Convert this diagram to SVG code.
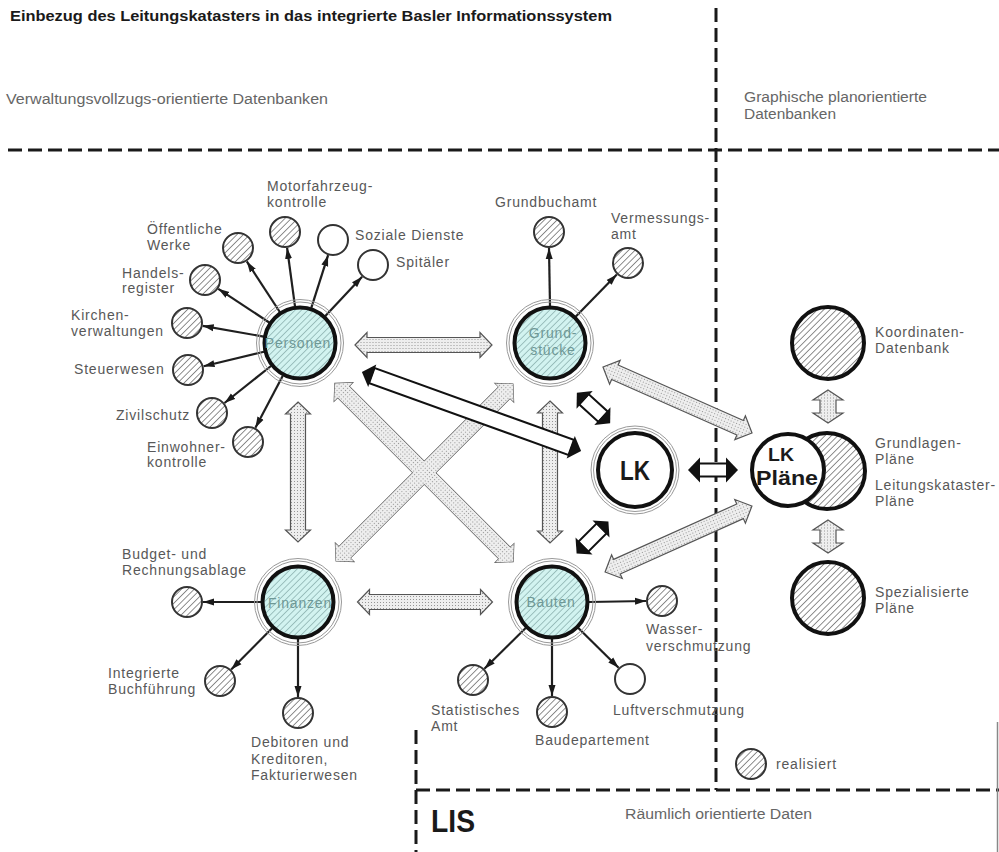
<svg xmlns="http://www.w3.org/2000/svg" width="999" height="852" viewBox="0 0 999 852">
<defs>
<pattern id="hatch" patternUnits="userSpaceOnUse" width="4.5" height="4.5" patternTransform="rotate(45)">
<rect width="4.5" height="4.5" fill="#fff"/>
<line x1="0" y1="0" x2="0" y2="4.5" stroke="#444" stroke-width="1.2"/>
</pattern>
<pattern id="hatchC" patternUnits="userSpaceOnUse" width="4.5" height="4.5" patternTransform="rotate(45)">
<rect width="4.5" height="4.5" fill="#d2f3f0"/>
<line x1="0" y1="0" x2="0" y2="4.5" stroke="#6f9896" stroke-width="1.1"/>
</pattern>
<pattern id="stip" patternUnits="userSpaceOnUse" width="3" height="3">
<rect width="3" height="3" fill="#eeeeee"/>
<rect width="1" height="1" fill="#959595"/>
</pattern>
<marker id="ah" viewBox="0 0 11 8" refX="11" refY="4" markerWidth="11" markerHeight="8" markerUnits="userSpaceOnUse" orient="auto">
<path d="M0,0.5 L11,4 L0,7.5 Z" fill="#1a1a1a"/>
</marker>
<polygon id="xa" transform="translate(424,472.5) rotate(45)" points="-126,0 -114,-13 -114,-8 114,-8 114,-13 126,0 114,13 114,8 -114,8 -114,13"/>
<polygon id="xb" transform="translate(424.5,472.5) rotate(-45)" points="-125,0 -113,-13 -113,-8 113,-8 113,-13 125,0 113,13 113,8 -113,8 -113,13"/>
<style>
.lbl{font-family:"Liberation Sans",Arial,sans-serif;font-size:14px;letter-spacing:0.8px;fill:#585858}
.hdr{font-family:"Liberation Sans",Arial,sans-serif;font-size:14px;fill:#666}
.nlbl{font-family:"Liberation Sans",Arial,sans-serif;font-size:14px;letter-spacing:0.8px;fill:#6e9896;text-anchor:middle}
.big{font-family:"Liberation Sans",Arial,sans-serif;font-weight:bold;fill:#1a1a1a;text-anchor:middle}
.dash{stroke:#1a1a1a;stroke-width:3;stroke-dasharray:14 6;fill:none}
.stip{fill:url(#stip);stroke:#555;stroke-width:1.2}
.conn{stroke:#1f1f1f;stroke-width:2.2;fill:none;marker-end:url(#ah)}
.sm{fill:url(#hatch);stroke:#333;stroke-width:2}
.smw{fill:#fff;stroke:#333;stroke-width:2}
.ring{fill:none;stroke:#999;stroke-width:1}
.core{fill:url(#hatchC);stroke:#111;stroke-width:4}
.bigc{fill:url(#hatch);stroke:#111;stroke-width:4}
.wbody{fill:#fff;stroke:#111;stroke-width:2}
.whead{fill:#111}
</style>
</defs>

<!-- frame lines -->
<g id="frame">
<line class="dash" x1="8" y1="150" x2="999" y2="150"/>
<line class="dash" x1="716" y1="8" x2="716" y2="790"/>
<line class="dash" x1="416" y1="790" x2="999" y2="790"/>
<line class="dash" x1="416" y1="730" x2="416" y2="852"/>
<line x1="997.5" y1="722" x2="997.5" y2="852" stroke="#888" stroke-width="1.5"/>
</g>

<g id="headings">
<text x="10" y="21" font-family="Liberation Sans, Arial, sans-serif" font-weight="bold" font-size="14" fill="#1a1a1a" textLength="602" lengthAdjust="spacingAndGlyphs">Einbezug des Leitungskatasters in das integrierte Basler Informationssystem</text>
<text class="hdr" x="6" y="104" textLength="322" lengthAdjust="spacingAndGlyphs">Verwaltungsvollzugs-orientierte Datenbanken</text>
<text class="hdr" x="744" y="102" textLength="183" lengthAdjust="spacingAndGlyphs">Graphische planorientierte</text>
<text class="hdr" x="744" y="119" textLength="92" lengthAdjust="spacingAndGlyphs">Datenbanken</text>
<text class="hdr" x="625" y="819" textLength="187" lengthAdjust="spacingAndGlyphs">Räumlich orientierte Daten</text>
<text x="431" y="832" font-family="Liberation Sans, Arial, sans-serif" font-weight="bold" font-size="32" fill="#1a1a1a" textLength="44" lengthAdjust="spacingAndGlyphs">LIS</text>
</g>

<!-- connectors -->
<g id="connectors">
<polygon class="stip" transform="translate(423.5,345)" points="-68.5,0 -56.5,-12.5 -56.5,-7.5 56.5,-7.5 56.5,-12.5 68.5,0 56.5,12.5 56.5,7.5 -56.5,7.5 -56.5,12.5"/>
<polygon class="stip" transform="translate(425,602)" points="-67.5,0 -55.5,-12.5 -55.5,-7.5 55.5,-7.5 55.5,-12.5 67.5,0 55.5,12.5 55.5,7.5 -55.5,7.5 -55.5,12.5"/>
<polygon class="stip" transform="translate(298,472) rotate(90)" points="-70,0 -58,-12.5 -58,-7.5 58,-7.5 58,-12.5 70,0 58,12.5 58,7.5 -58,7.5 -58,12.5"/>
<polygon class="stip" transform="translate(550,472) rotate(90)" points="-71,0 -59,-12.5 -59,-7.5 59,-7.5 59,-12.5 71,0 59,12.5 59,7.5 -59,7.5 -59,12.5"/>
<g fill="url(#stip)" stroke="#555" stroke-width="1.2"><use href="#xa"/><use href="#xb"/></g>
<g fill="url(#stip)" stroke="none"><use href="#xa"/><use href="#xb"/></g>
<polygon class="stip" transform="translate(677.5,400) rotate(23.9)" points="-81.5,0 -68.5,-13 -68.5,-8 68.5,-8 68.5,-13 81.5,0 68.5,13 68.5,8 -68.5,8 -68.5,13"/>
<polygon class="stip" transform="translate(678.5,539) rotate(-24.2)" points="-80.5,0 -67.5,-13 -67.5,-8 67.5,-8 67.5,-13 80.5,0 67.5,13 67.5,8 -67.5,8 -67.5,13"/>
<polygon class="stip" transform="translate(828,406.5) rotate(90)" points="-16.5,0 -6.5,-15 -6.5,-8 6.5,-8 6.5,-15 16.5,0 6.5,15 6.5,8 -6.5,8 -6.5,15"/>
<polygon class="stip" transform="translate(828,536.5) rotate(90)" points="-16.5,0 -6.5,-15 -6.5,-8 6.5,-8 6.5,-15 16.5,0 6.5,15 6.5,8 -6.5,8 -6.5,15"/>

<g transform="translate(471.5,411.5) rotate(19.84)">
<rect class="wbody" x="-106" y="-8" width="212" height="16"/>
<polygon class="whead" points="-116.5,0 -105.5,-12 -105.5,12"/>
<polygon class="whead" points="116.5,0 105.5,-12 105.5,12"/>
</g>
<g transform="translate(593.5,408) rotate(42.3)">
<rect class="wbody" x="-13" y="-7" width="26" height="14"/>
<polygon class="whead" points="-22.5,0 -12,-12 -12,12"/>
<polygon class="whead" points="22.5,0 12,-12 12,12"/>
</g>
<g transform="translate(592.5,537.5) rotate(135)">
<rect class="wbody" x="-13" y="-7" width="26" height="14"/>
<polygon class="whead" points="-22.5,0 -12,-12 -12,12"/>
<polygon class="whead" points="22.5,0 12,-12 12,12"/>
</g>
<g transform="translate(713,470)">
<rect class="wbody" x="-14" y="-6.5" width="28" height="13"/>
<polygon class="whead" points="-25,0 -13,-12.5 -13,12.5"/>
<polygon class="whead" points="25,0 13,-12.5 13,12.5"/>
</g>

<line class="conn" x1="295" y1="306.3" x2="287.1" y2="247.9"/>
<line class="conn" x1="311.3" y1="307.8" x2="328.1" y2="255.2"/>
<line class="conn" x1="325.3" y1="316" x2="362.1" y2="276.7"/>
<line class="conn" x1="279.8" y1="312" x2="246.8" y2="261.4"/>
<line class="conn" x1="269.2" y1="322.5" x2="218.3" y2="288.8"/>
<line class="conn" x1="263.6" y1="336.6" x2="202.7" y2="325.8"/>
<line class="conn" x1="264" y1="351.7" x2="203.6" y2="366.3"/>
<line class="conn" x1="271" y1="366" x2="224.5" y2="403"/>
<line class="conn" x1="282.8" y1="375.8" x2="255.4" y2="427.8"/>
<line class="conn" x1="550" y1="306" x2="549" y2="248"/>
<line class="conn" x1="575.8" y1="316.5" x2="616.8" y2="274.5"/>
<line class="conn" x1="261" y1="602" x2="203" y2="602"/>
<line class="conn" x1="272" y1="628.3" x2="231.2" y2="669.6"/>
<line class="conn" x1="298" y1="639" x2="298" y2="697"/>
<line class="conn" x1="589" y1="602" x2="646" y2="601"/>
<line class="conn" x1="525.7" y1="628" x2="484.4" y2="668.8"/>
<line class="conn" x1="552" y1="639" x2="552" y2="696"/>
<line class="conn" x1="578.3" y1="628" x2="618.6" y2="667.8"/>
</g>

<!-- main nodes -->
<g id="personen">
<circle class="ring" cx="300" cy="343" r="41"/>
<circle class="ring" cx="300" cy="343" r="43.5"/>
<circle class="core" cx="300" cy="343" r="35.5"/>
<text class="nlbl" x="298" y="348">Personen</text>
</g>
<g id="grundstuecke">
<circle class="ring" cx="550" cy="343" r="41"/>
<circle class="ring" cx="550" cy="343" r="43.5"/>
<circle class="core" cx="550" cy="343" r="35.5"/>
<text class="nlbl" x="553" y="338">Grund-</text>
<text class="nlbl" x="553" y="355">stücke</text>
</g>
<g id="finanzen">
<circle class="ring" cx="298" cy="602" r="41"/>
<circle class="ring" cx="298" cy="602" r="43.5"/>
<circle class="core" cx="298" cy="602" r="35.5"/>
<text class="nlbl" x="300" y="608">Finanzen</text>
</g>
<g id="bauten">
<circle class="ring" cx="552" cy="602" r="41"/>
<circle class="ring" cx="552" cy="602" r="43.5"/>
<circle class="core" cx="552" cy="602" r="35.5"/>
<text class="nlbl" x="551" y="607">Bauten</text>
</g>
<g id="lk">
<circle class="ring" cx="635" cy="470" r="41.5"/>
<circle class="ring" cx="635" cy="470" r="44"/>
<circle cx="635" cy="470" r="37" fill="#fff" stroke="#111" stroke-width="4"/>
<text class="big" x="635" y="480" font-size="27" textLength="30" lengthAdjust="spacingAndGlyphs">LK</text>
</g>
<g id="lk-plaene">
<circle class="bigc" cx="827" cy="471" r="38"/>
<circle cx="788" cy="470" r="36" fill="#fff" stroke="#111" stroke-width="4"/>
<text class="big" x="781" y="461" font-size="19" textLength="26" lengthAdjust="spacingAndGlyphs">LK</text>
<text class="big" x="787" y="485" font-size="20" textLength="62" lengthAdjust="spacingAndGlyphs">Pläne</text>
</g>
<g id="koordinaten">
<circle class="bigc" cx="828" cy="343" r="36"/>
<text class="lbl" x="875" y="337">Koordinaten-</text>
<text class="lbl" x="875" y="353">Datenbank</text>
</g>
<g id="plaene-labels">
<text class="lbl" x="875" y="448">Grundlagen-</text>
<text class="lbl" x="875" y="464">Pläne</text>
<text class="lbl" x="875" y="490">Leitungskataster-</text>
<text class="lbl" x="875" y="506">Pläne</text>
</g>
<g id="spezialisierte">
<circle class="bigc" cx="828" cy="598" r="36"/>
<text class="lbl" x="875" y="597">Spezialisierte</text>
<text class="lbl" x="875" y="613">Pläne</text>
</g>

<!-- small nodes -->
<g id="motorfahrzeug"><circle class="sm" cx="285" cy="232" r="15"/><text class="lbl" x="267" y="191">Motorfahrzeug-</text><text class="lbl" x="267" y="207">kontrolle</text></g>
<g id="soziale"><circle class="smw" cx="333" cy="240" r="15"/><text class="lbl" x="355" y="240">Soziale Dienste</text></g>
<g id="spitaeler"><circle class="smw" cx="373" cy="265" r="15"/><text class="lbl" x="396" y="267">Spitäler</text></g>
<g id="oeffentliche"><circle class="sm" cx="238" cy="248" r="15"/><text class="lbl" x="147" y="234">Öffentliche</text><text class="lbl" x="147" y="250">Werke</text></g>
<g id="handels"><circle class="sm" cx="205" cy="280" r="15"/><text class="lbl" x="122" y="278">Handels-</text><text class="lbl" x="122" y="293">register</text></g>
<g id="kirchen"><circle class="sm" cx="187" cy="323" r="15"/><text class="lbl" x="71" y="320">Kirchen-</text><text class="lbl" x="71" y="336">verwaltungen</text></g>
<g id="steuer"><circle class="sm" cx="188" cy="370" r="15"/><text class="lbl" x="74" y="374">Steuerwesen</text></g>
<g id="zivil"><circle class="sm" cx="212" cy="413" r="15"/><text class="lbl" x="116" y="420">Zivilschutz</text></g>
<g id="einwohner"><circle class="sm" cx="248" cy="442" r="15"/><text class="lbl" x="147" y="452">Einwohner-</text><text class="lbl" x="147" y="467">kontrolle</text></g>

<g id="grundbuch"><circle class="sm" cx="549" cy="232" r="15"/><text class="lbl" x="495" y="207">Grundbuchamt</text></g>
<g id="vermessung"><circle class="sm" cx="628" cy="263" r="15"/><text class="lbl" x="611" y="223">Vermessungs-</text><text class="lbl" x="611" y="239">amt</text></g>

<g id="budget"><circle class="sm" cx="187" cy="602" r="15"/><text class="lbl" x="122" y="559">Budget- und</text><text class="lbl" x="122" y="575">Rechnungsablage</text></g>
<g id="integrierte"><circle class="sm" cx="220" cy="681" r="15"/><text class="lbl" x="108" y="678">Integrierte</text><text class="lbl" x="108" y="694">Buchführung</text></g>
<g id="debitoren"><circle class="sm" cx="298" cy="713" r="15"/><text class="lbl" x="251" y="747">Debitoren und</text><text class="lbl" x="251" y="764">Kreditoren,</text><text class="lbl" x="251" y="780">Fakturierwesen</text></g>

<g id="wasser"><circle class="sm" cx="662" cy="601" r="15"/><text class="lbl" x="646" y="634">Wasser-</text><text class="lbl" x="646" y="651">verschmutzung</text></g>
<g id="statistisches"><circle class="sm" cx="473" cy="680" r="15"/><text class="lbl" x="431" y="715">Statistisches</text><text class="lbl" x="431" y="731">Amt</text></g>
<g id="baudepartement"><circle class="sm" cx="552" cy="712" r="15"/><text class="lbl" x="535" y="745">Baudepartement</text></g>
<g id="luft"><circle class="smw" cx="630" cy="679" r="15"/><text class="lbl" x="613" y="715">Luftverschmutzung</text></g>

<g id="legend"><circle class="sm" cx="751" cy="764" r="15"/><text class="lbl" x="776" y="769">realisiert</text></g>
</svg>
